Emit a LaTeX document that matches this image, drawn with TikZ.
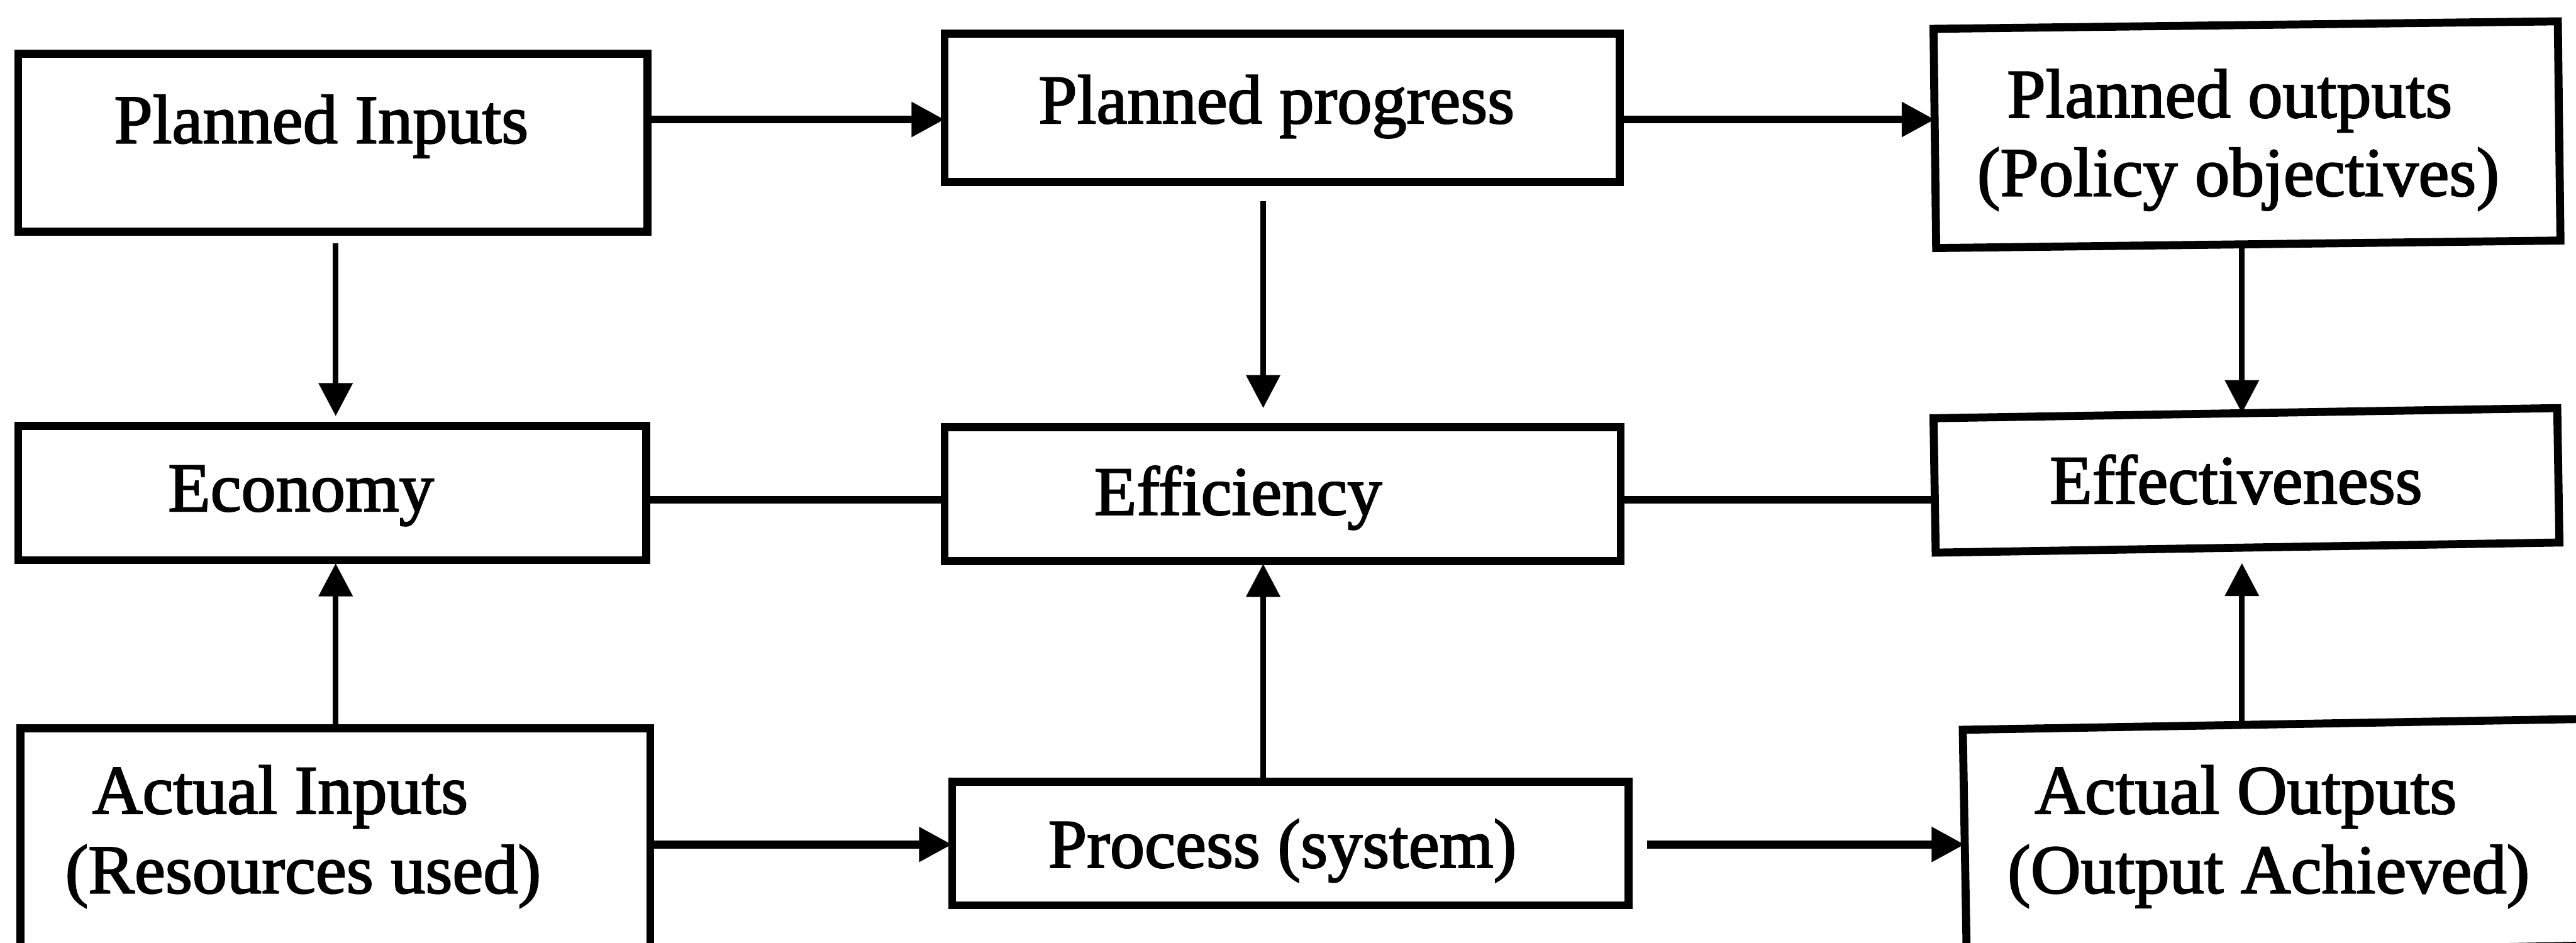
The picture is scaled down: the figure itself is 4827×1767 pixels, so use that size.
\documentclass[tikz,border=0pt]{standalone}
\usepackage{fontspec}
\setmainfont{Liberation Serif}
\newfontfamily\labelfont{Liberation Serif}[FakeBold=2]
\usetikzlibrary{arrows.meta}
\begin{document}
\begin{tikzpicture}[x=0.1pt,y=-0.1pt,
  box/.style={draw, line width=1.5pt, inner sep=0pt, outer sep=0pt, rectangle},
  txt/.style={font=\labelfont\fontsize{13}{15}\selectfont, inner sep=0pt, anchor=base},
  hlink/.style={line width=1.5pt},
  vlink/.style={line width=1.05pt},
  tip/.style={-{Triangle[length=6.2pt,width=6.2pt]}}
]
\useasboundingbox (0,0) rectangle (4827,1767);
\clip (0,0) rectangle (4827,1767);
\fill[white] (0,0) rectangle (4827,1767);

% column and row guides for the connectors
\coordinate (colA) at (629,0);
\coordinate (colB) at (2367,0);
\coordinate (colC) at (4201,0);
\coordinate (rowA) at (0,224);
\coordinate (rowB) at (0,937);
\coordinate (rowC) at (0,1583);

% top row: planned figures
\node[box, minimum width=117.9pt, minimum height=33.3pt] (PI) at (623.5,267.5) {};
\node[box, minimum width=126.5pt, minimum height=27.8pt] (PP) at (2402.5,202) {};
\node[box, minimum width=117pt, minimum height=41.1pt, rotate=0.69] (PO) at (4210.5,252.5) {};

% middle row: the three E's
\node[box, minimum width=117.7pt, minimum height=25.2pt] (EC) at (622.5,924) {};
\node[box, minimum width=126.7pt, minimum height=25.1pt] (EF) at (2403.5,926.5) {};
\node[box, minimum width=116.9pt, minimum height=25.2pt, rotate=0.93] (ET) at (4209.5,900.5) {};

% bottom row: actual figures
\node[box, minimum width=118pt, minimum height=60pt] (AI) at (628.5,1665) {};
\node[box, minimum width=126.8pt, minimum height=23.2pt] (PR) at (2418,1581) {};
\node[box, minimum width=118pt, minimum height=42.5pt, rotate=1.0] (AO) at (4271.5,1570.2) {};

% labels
\node[txt] (tPI) at (602,268) {Planned Inputs};
\node[txt] (tPP) at (2392,231) {Planned progress};
\node[txt] (tPOa) at (4178,220) {Planned outputs};
\node[txt] (tPOb) at (4194,367) {(Policy objectives)};
\node[txt] (tEC) at (564,958) {Economy};
\node[txt] (tEF) at (2320,965) {Efficiency};
\node[txt] (tET) at (4190,944) {Effectiveness};
\node[txt] (tAIa) at (525,1525) {Actual Inputs};
\node[txt] (tAIb) at (568,1674) {(Resources used)};
\node[txt] (tPR) at (2403,1626) {Process (system)};
\node[txt] (tAOa) at (4208,1525) {Actual Outputs};
\node[txt] (tAOb) at (4251,1674) {(Output Achieved)};

% horizontal flow
\draw[hlink,tip] (PI.east |- rowA) -- (PP.west |- rowA);
\draw[hlink,tip] (PP.east |- rowA) -- (PO.west |- rowA);
\draw[hlink] (EC.east |- rowB) -- (EF.west |- rowB);
\draw[hlink] (EF.east |- rowB) -- (ET.west |- rowB);
\draw[hlink,tip] (AI.east |- rowC) -- (PR.west |- rowC);
\draw[hlink,tip,shorten <=3.5pt] (PR.east |- rowC) -- (AO.west |- rowC);

% planned figures down into the measures
\draw[vlink,tip,shorten <=2.2pt,shorten >=1.8pt] (PI.south -| colA) -- (EC.north -| colA);
\draw[vlink,tip,shorten <=3.6pt,shorten >=3.6pt] (PP.south -| colB) -- (EF.north -| colB);
\draw[vlink,tip] (PO.south -| colC) -- (ET.north -| colC);

% actual figures up into the measures
\draw[vlink,tip,shorten >=0.6pt] (AI.north -| colA) -- (EC.south -| colA);
\draw[vlink,tip,shorten >=0.5pt] (PR.north -| colB) -- (EF.south -| colB);
\draw[vlink,tip,shorten >=2.9pt] (AO.north -| colC) -- (ET.south -| colC);
\end{tikzpicture}
\end{document}
